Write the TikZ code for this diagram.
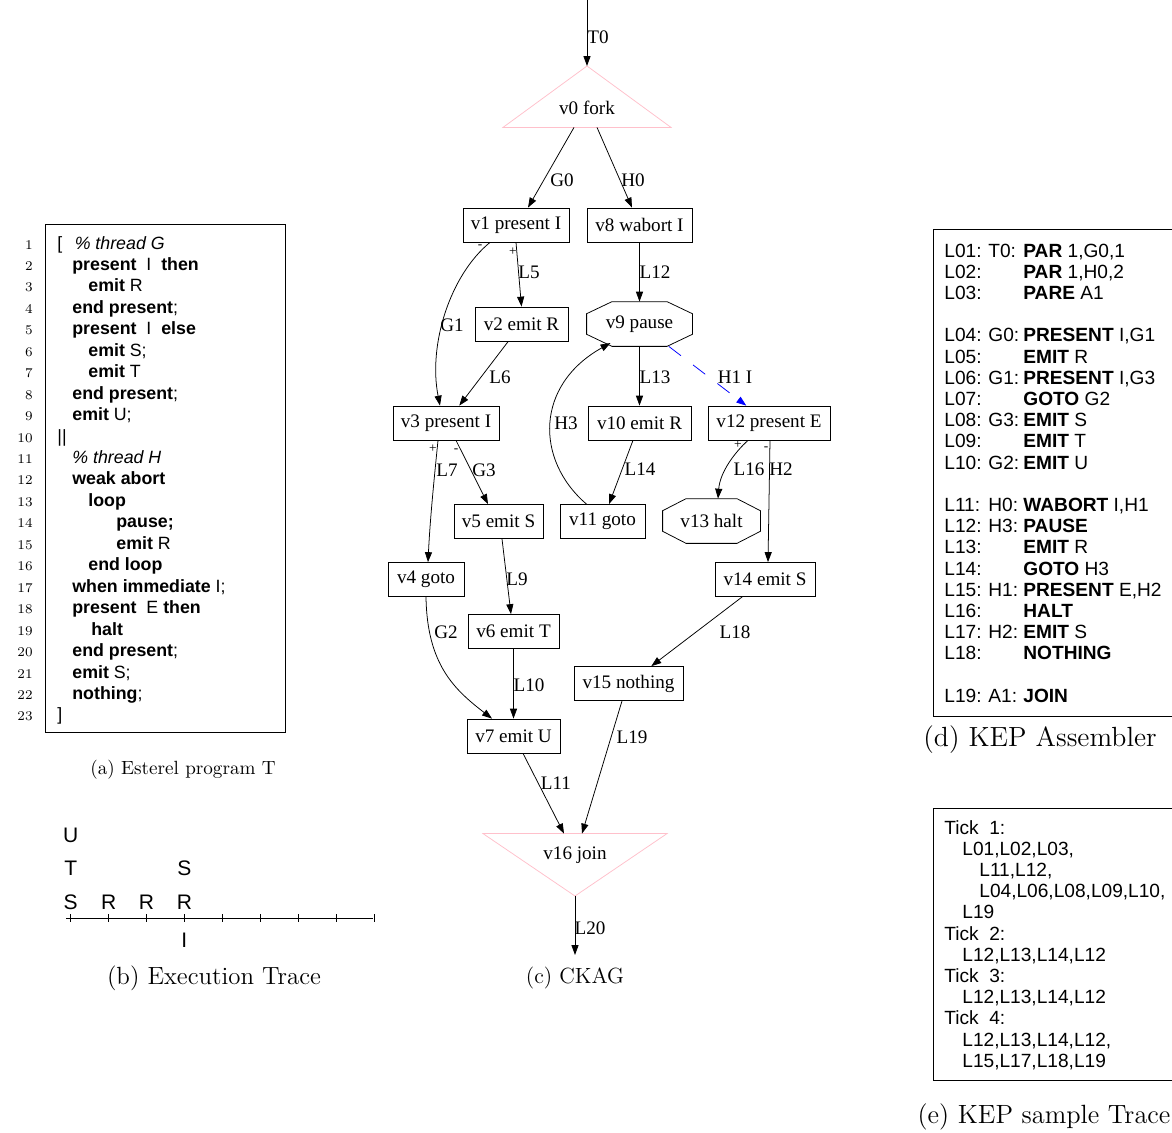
\documentclass[tikz,border=0pt]{standalone}
\usepackage{fontspec}
\setsansfont{Liberation Sans}
\newfontfamily\gvfont{Liberation Serif}
\usetikzlibrary{arrows.meta,calc}
\definecolor{gvpink}{HTML}{FFC0CB}

\tikzset{
  gv/.style={font=\gvfont\fontsize{10}{12}\selectfont},
  bx/.style={gv, draw, rectangle, minimum height=17.8pt, minimum width=#1*0.523pt, inner sep=0pt},
  oct/.style={gv, rectangle, minimum height=23pt, minimum width=#1*0.523pt, inner sep=0pt},
  lbl/.style={gv, inner sep=0pt},
  sgn/.style={font=\gvfont\fontsize{7}{8}\selectfont, inner sep=0pt},
  edge/.style={draw, -{Triangle[length=5.2pt,width=3.7pt]}},
  hedge/.style={draw=blue, dash pattern=on 8pt off 8pt, -{Triangle[length=5.2pt,width=3.7pt]}},
  tri/.style={draw=gvpink},
  code/.style={font=\sffamily\fontsize{9.3}{11}\selectfont, inner sep=0pt, anchor=base west},
  lnum/.style={font=\fontsize{7}{8}\selectfont, inner sep=0pt, anchor=base east},
  asm/.style={font=\sffamily\fontsize{10}{12}\selectfont, inner sep=0pt, anchor=base west},
  sig/.style={font=\sffamily\fontsize{11}{13}\selectfont, inner sep=0pt},
  capt/.style={font=\fontsize{10}{12}\selectfont, inner sep=0pt}
}

% octagon drawn inside the node box
\newcommand{\octa}[1]{\draw ($(#1.north west)!.24!(#1.north east)$) -- ($(#1.north west)!.76!(#1.north east)$) -- ($(#1.north east)!.27!(#1.south east)$) -- ($(#1.north east)!.73!(#1.south east)$) -- ($(#1.south west)!.76!(#1.south east)$) -- ($(#1.south west)!.24!(#1.south east)$) -- ($(#1.north west)!.73!(#1.south west)$) -- ($(#1.north west)!.27!(#1.south west)$) -- cycle;}

\begin{document}
\begin{tikzpicture}[x=0.523pt,y=-0.523pt]
\useasboundingbox (0,0) rectangle (1172,1132);

% (a) Esterel program
\draw (45,224) rectangle (285,732);
\foreach \n in {1,...,23}
  \node[lnum] (num\n) at (33, 249+21.45*\n-21.45) {\n};
\foreach \n/\x/\t in {
  1/57/{[\hspace{6.5pt}\textit{\% thread G}},
  2/72/{\textbf{present}\ \ I\ \ \textbf{then}},
  3/88/{\textbf{emit} R},
  4/72/{\textbf{end present};},
  5/72/{\textbf{present}\ \ I\ \ \textbf{else}},
  6/88/{\textbf{emit} S;},
  7/88/{\textbf{emit} T},
  8/72/{\textbf{end present};},
  9/72/{\textbf{emit} U;},
  10/57/{||},
  11/72/{\textit{\% thread H}},
  12/72/{\textbf{weak abort}},
  13/88/{\textbf{loop}},
  14/116/{\textbf{pause;}},
  15/116/{\textbf{emit} R},
  16/88/{\textbf{end loop}},
  17/72/{\textbf{when immediate} I;},
  18/72/{\textbf{present}\ \ E\ \textbf{then}},
  19/91/{\textbf{halt}},
  20/72/{\textbf{end present};},
  21/72/{\textbf{emit} S;},
  22/72/{\textbf{nothing};},
  23/57/{]}}
  \node[code] (ln\n) at (\x, 249+21.45*\n-21.45) {\t};
\node[capt] (capa) at (183,770) {(a) Esterel program T};

% (b) Execution trace
\draw (66,918) -- (373,918);
\foreach \k in {0,...,8}
  \draw (70.7+37.9*\k,914) -- (70.7+37.9*\k,922);
\node[sig] (trS) at (70.7,902) {S};
\node[sig] (trT) at (70.7,868) {T};
\node[sig] (trU) at (70.7,835) {U};
\node[sig] (trR2) at (108.6,902) {R};
\node[sig] (trR3) at (146.5,902) {R};
\node[sig] (trR4) at (184.4,902) {R};
\node[sig] (trS4) at (184.4,868) {S};
\node[sig] (trI4) at (184.4,940) {I};
\node[capt, font=\fontsize{13}{15}\selectfont] (capb) at (214,978) {(b) Execution Trace};

% (c) CKAG
\node[lbl, minimum height=19.9pt] (v0) at (587,108) {v0 fork};
\coordinate (v0apex) at ($(v0.center)+(0,-42)$);
\coordinate (t0) at (587,0);
\draw[tri] (v0apex) -- ($(v0.south)+(84,0)$) -- ($(v0.south)+(-84,0)$) -- cycle;
\node[bx=106] (v1) at (516,225) {v1 present I};
\node[bx=105] (v8) at (639.5,225) {v8 wabort I};
\node[bx=93] (v2) at (521.5,324) {v2 emit R};
\node[oct=105] (v9) at (639.5,324) {v9 pause};
\octa{v9}
\node[bx=106] (v3) at (446,423) {v3 present I};
\node[bx=103] (v10) at (639.5,423) {v10 emit R};
\node[bx=122] (v12) at (769,423) {v12 present E};
\node[bx=89] (v5) at (498.5,521.5) {v5 emit S};
\node[bx=85] (v11) at (602.5,521.5) {v11 goto};
\node[oct=97] (v13) at (711.5,521) {v13 halt};
\octa{v13}
\node[bx=76] (v4) at (426,579.5) {v4 goto};
\node[bx=100] (v14) at (765,579.5) {v14 emit S};
\node[bx=91] (v6) at (513.5,631.5) {v6 emit T};
\node[bx=109] (v15) at (628.5,683.5) {v15 nothing};
\node[bx=93] (v7) at (513.5,736) {v7 emit U};
\node[lbl, minimum height=22pt] (v16) at (575,855) {v16 join};
\coordinate (v16apex) at ($(v16.center)+(0,41)$);
\coordinate (l20end) at (575,955);
\draw[tri] ($(v16.north)+(-92,0)$) -- ($(v16.north)+(92,0)$) -- (v16apex) -- cycle;

\draw[edge] (t0) -- (v0apex);
\draw[edge] ($(v0.south)+(-13,0)$) -- ($(v1.north)+(12,0)$);
\draw[edge] ($(v0.south)+(10,0)$) -- ($(v8.north)+(-7.5,0)$);
\draw[edge] ($(v1.south)+(-26,0)$) .. controls (450,275) and (428,345) .. ($(v3.north)+(-6,0)$);
\draw[edge] (v1.south) -- (v2.north);
\draw[edge] (v8) -- (v9);
\draw[edge] (v2) -- (v3);
\draw[edge] (v9) -- (v10);
\draw[hedge] (v9) -- (v12);
\draw[edge] ($(v11.north)+(-16,0)$) .. controls (535,460) and (535,385) .. ($(v9.center)+(-29,19)$);
\draw[edge] (v10) -- (v11);
\draw[edge] ($(v12.south)+(-21,0)$) .. controls (735,452) and (720,472) .. ($(v13.north)+(6.5,0)$);
\draw[edge] ($(v12.south)+(1,0)$) -- ($(v14.north)+(3,0)$);
\draw[edge] ($(v3.south)+(-8,0)$) .. controls (434,480) and (430,520) .. ($(v4.north)+(2,0)$);
\draw[edge] ($(v3.south)+(10,0)$) -- ($(v5.north)+(-10.5,0)$);
\draw[edge] ($(v5.south)+(3.5,0)$) -- ($(v6.north)+(-2.5,0)$);
\draw[edge] (v4.south) .. controls (427,665) and (455,690) .. ($(v7.north)+(-21.5,0)$);
\draw[edge] (v6) -- (v7);
\draw[edge] (v14) -- (v15);
\draw[edge] ($(v7.south)+(9.5,0)$) -- ($(v16.north)+(-11,0)$);
\draw[edge] ($(v15.south)+(-6.5,0)$) -- ($(v16.north)+(7,0)$);
\draw[edge] (v16apex) -- (l20end);

% edge labels
\node[lbl] (lT0) at (598,37) {T0};
\node[lbl] (lG0) at (562,180) {G0};
\node[lbl] (lH0) at (633,180) {H0};
\node[lbl] (lL5) at (529,272) {L5};
\node[sgn] (pv1) at (513,252) {+};
\node[sgn] (mv1) at (480,247) {-};
\node[lbl] (lG1) at (452,325) {G1};
\node[lbl] (lL12) at (655,272) {L12};
\node[lbl] (lL6) at (500,377) {L6};
\node[lbl] (lL13) at (655,377) {L13};
\node[lbl] (lH1) at (735,377) {H1 I};
\node[lbl] (lH3) at (566,423) {H3};
\node[lbl] (lL7) at (447,470) {L7};
\node[sgn] (pv3) at (433,449) {+};
\node[lbl] (lG3) at (484,470) {G3};
\node[sgn] (mv3) at (456,451) {-};
\node[lbl] (lL14) at (640,469) {L14};
\node[lbl] (lL16) at (749,469) {L16};
\node[sgn] (pv12) at (738,445) {+};
\node[lbl] (lH2) at (781,469) {H2};
\node[sgn] (mv12) at (766,449) {-};
\node[lbl] (lL9) at (517,579) {L9};
\node[lbl] (lG2) at (446,632) {G2};
\node[lbl] (lL18) at (735,632) {L18};
\node[lbl] (lL10) at (529,685) {L10};
\node[lbl] (lL19) at (632,737) {L19};
\node[lbl] (lL11) at (556,783) {L11};
\node[lbl] (lL20) at (590,928) {L20};
\node[capt, font=\fontsize{11.5}{13}\selectfont] (capc) at (575,978) {(c) CKAG};

% (d) KEP assembler
\draw (1172,229) -- (933,229) -- (933,716) -- (1172,716);
\foreach \r/\a/\b/\c in {
  0/L01:/T0:/{\textbf{PAR} 1,G0,1},
  1/L02://{\textbf{PAR} 1,H0,2},
  2/L03://{\textbf{PARE} A1},
  4/L04:/G0:/{\textbf{PRESENT} I,G1},
  5/L05://{\textbf{EMIT} R},
  6/L06:/G1:/{\textbf{PRESENT} I,G3},
  7/L07://{\textbf{GOTO} G2},
  8/L08:/G3:/{\textbf{EMIT} S},
  9/L09://{\textbf{EMIT} T},
  10/L10:/G2:/{\textbf{EMIT} U},
  12/L11:/H0:/{\textbf{WABORT} I,H1},
  13/L12:/H3:/{\textbf{PAUSE}},
  14/L13://{\textbf{EMIT} R},
  15/L14://{\textbf{GOTO} H3},
  16/L15:/H1:/{\textbf{PRESENT} E,H2},
  17/L16://{\textbf{HALT}},
  18/L17:/H2:/{\textbf{EMIT} S},
  19/L18://{\textbf{NOTHING}},
  21/L19:/A1:/{\textbf{JOIN}}} {
  \node[asm] (al\r) at (944, 257+21.2*\r) {\a};
  \node[asm] (at\r) at (988, 257+21.2*\r) {\b};
  \node[asm] (ai\r) at (1023, 257+21.2*\r) {\c};
}
\node[capt, font=\fontsize{14.5}{16}\selectfont] (capd) at (1040,740) {(d) KEP Assembler};

% (e) KEP sample trace
\draw (1172,808) -- (933,808) -- (933,1080) -- (1172,1080);
\foreach \r/\x/\t in {
  0/944/{Tick\ \ 1:},
  1/962/{L01,L02,L03,},
  2/979/{L11,L12,},
  3/979/{L04,L06,L08,L09,L10,},
  4/962/{L19},
  5/944/{Tick\ \ 2:},
  6/962/{L12,L13,L14,L12},
  7/944/{Tick\ \ 3:},
  8/962/{L12,L13,L14,L12},
  9/944/{Tick\ \ 4:},
  10/962/{L12,L13,L14,L12,},
  11/962/{L15,L17,L18,L19}}
  \node[asm] (tl\r) at (\x, 834+21.2*\r) {\t};
\node[capt, font=\fontsize{13.8}{16}\selectfont] (cape) at (1044,1117) {(e) KEP sample Trace};
\end{tikzpicture}
\end{document}
